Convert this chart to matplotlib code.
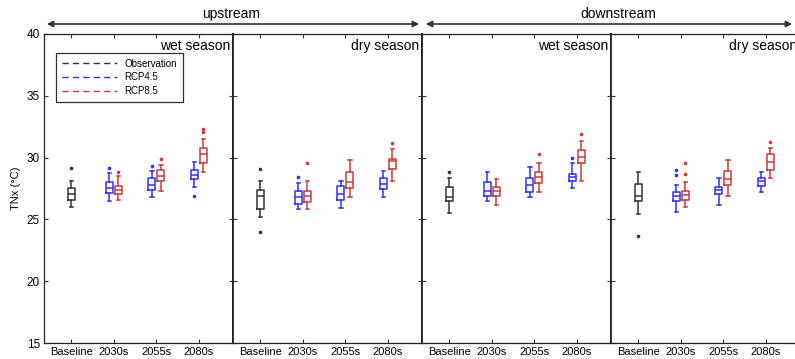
import matplotlib
matplotlib.use('Agg')
from matplotlib import pyplot as plt

plt.rcParams['font.family'] = ['Liberation Sans', 'DejaVu Sans']

# panel layout: upstream wet, upstream dry, downstream wet, downstream dry
seasons = ['wet season', 'dry season', 'wet season', 'dry season']
periods = ['Baseline', '2030s', '2055s', '2080s']
scenarios = ['Observation', 'RCP4.5', 'RCP8.5']

# box statistics: (whislo, q1, med, q3, whishi, fliers)
obs_stats = [
    (26.0, 26.57, 27.03, 27.52, 28.13, [29.13]),
    (25.17, 25.82, 26.89, 27.38, 28.11, [29.05, 24.0]),
    (25.52, 26.46, 26.84, 27.62, 28.37, [28.83]),
    (25.41, 26.49, 26.92, 27.89, 28.86, [23.68]),
]
rcp45_stats = [
    [(26.51, 27.14, 27.54, 28.05, 28.78, [29.13]),
     (26.79, 27.4, 27.78, 28.32, 28.94, [29.32]),
     (27.6, 28.24, 28.59, 28.97, 29.62, [26.87])],
    [(25.87, 26.27, 26.81, 27.27, 27.97, [28.43]),
     (25.9, 26.59, 27.08, 27.7, 28.13, []),
     (26.79, 27.43, 27.86, 28.32, 28.92, [])],
    [(26.49, 26.87, 27.32, 28.03, 28.83, []),
     (26.79, 27.22, 27.81, 28.32, 29.21, []),
     (27.52, 28.13, 28.4, 28.65, 29.54, [29.94])],
    [(25.62, 26.51, 26.89, 27.24, 27.81, [28.57, 29.0]),
     (26.19, 27.03, 27.35, 27.6, 28.32, []),
     (27.22, 27.7, 28.08, 28.37, 28.83, [])],
]
rcp85_stats = [
    [(26.57, 27.08, 27.38, 27.68, 28.54, [28.83]),
     (27.3, 28.11, 28.51, 29.0, 29.4, [29.91]),
     (28.81, 29.54, 30.29, 30.75, 31.48, [32.1, 32.31])],
    [(25.82, 26.41, 26.87, 27.32, 28.13, [29.54]),
     (26.79, 27.56, 28.05, 28.86, 29.8, []),
     (28.11, 29.05, 29.72, 29.91, 30.67, [31.16])],
    [(26.17, 26.89, 27.27, 27.6, 28.29, []),
     (27.19, 27.97, 28.43, 28.83, 29.54, [30.27]),
     (28.11, 29.54, 30.02, 30.62, 31.34, [31.91])],
    [(26.0, 26.57, 26.95, 27.32, 28.03, [28.65, 29.54]),
     (26.87, 27.76, 28.24, 28.92, 29.8, []),
     (28.32, 29.0, 29.67, 30.27, 30.8, [31.24])],
]

colors = {'Observation': '#333333', 'RCP4.5': '#3030ff', 'RCP8.5': '#cc3b3b'}


def to_bxp(s):
    lo, q1, med, q3, hi, fl = s
    return dict(whislo=lo, q1=q1, med=med, q3=q3, whishi=hi, fliers=fl)


def draw(ax, stats, pos, color):
    ax.bxp([to_bxp(s) for s in stats], positions=pos, widths=0.165,
           showfliers=True, manage_ticks=False,
           boxprops=dict(color=color, lw=1.1),
           medianprops=dict(color=color, lw=1.1),
           whiskerprops=dict(color=color, lw=1.1),
           capprops=dict(color=color, lw=1.1),
           capwidths=0.08,
           flierprops=dict(marker='o', markersize=1.6, markerfacecolor=color,
                           markeredgecolor=color))


fig = plt.figure(figsize=(7.95, 3.59), dpi=100)
W, H = 795.0, 359.0
left, top, bottom, pw = 44, 34, 343, 189
axes = []
for i in range(4):
    ax = fig.add_axes([(left + i * pw) / W, (H - bottom) / H, pw / W, (bottom - top) / H])
    axes.append(ax)
    x = [1, 2, 3, 4]
    draw(ax, [obs_stats[i]], [1], colors['Observation'])
    draw(ax, rcp45_stats[i], [2 - 0.105, 3 - 0.105, 4 - 0.105], colors['RCP4.5'])
    draw(ax, rcp85_stats[i], [2 + 0.105, 3 + 0.105, 4 + 0.105], colors['RCP8.5'])
    ax.set_xlim(0.36, 4.8)
    ax.set_ylim(15, 40)
    ax.set_xticks(x)
    ax.set_xticklabels(periods, fontsize=8)
    ax.set_yticks([15, 20, 25, 30, 35, 40])
    ax.tick_params(direction='in', length=3, top=True, right=True, pad=3,
                   labelsize=8.5, color='#333333')
    ax.tick_params(axis='x', labelsize=8)
    if i > 0:
        ax.tick_params(labelleft=False)
    for name, sp in ax.spines.items():
        sp.set_color('#222222')
        sp.set_linewidth(0.9)
    if i > 0:
        ax.spines['left'].set_linewidth(1.3)
    if i < 3:
        ax.spines['right'].set_linewidth(1.3)
    ax.text(0.985, 0.985, seasons[i], transform=ax.transAxes, ha='right', va='top',
            fontsize=10)

axes[0].set_ylabel('TNx (°C)', fontsize=8, labelpad=4)

# legend
handles = [plt.Line2D([], [], color=colors[k], ls=(0, (4.5, 3)), lw=1.0) for k in scenarios]
axes[0].legend(handles, scenarios, loc='upper left', bbox_to_anchor=(0.04, 0.955),
               fontsize=7, handlelength=5.6, handletextpad=0.8, borderpad=0.6,
               labelspacing=0.4, frameon=True, fancybox=False, edgecolor='#333333',
               framealpha=1)
axes[0].get_legend().get_frame().set_linewidth(0.9)

# upstream / downstream arrows
ya = 1 - 24 / H
fig.add_artist(matplotlib.patches.FancyArrowPatch(
    (44 / W, ya), (422 / W, ya), transform=fig.transFigure,
    arrowstyle='<|-|>', mutation_scale=9, color='#333333', lw=1.2))
fig.add_artist(matplotlib.patches.FancyArrowPatch(
    (423 / W, ya), (795 / W, ya), transform=fig.transFigure,
    arrowstyle='<|-|>', mutation_scale=9, color='#333333', lw=1.2))
fig.text(231 / W, 1 - 14 / H, 'upstream', ha='center', va='center', fontsize=10)
fig.text(618 / W, 1 - 14 / H, 'downstream', ha='center', va='center', fontsize=10)

fig.savefig('out.png', dpi=100)
